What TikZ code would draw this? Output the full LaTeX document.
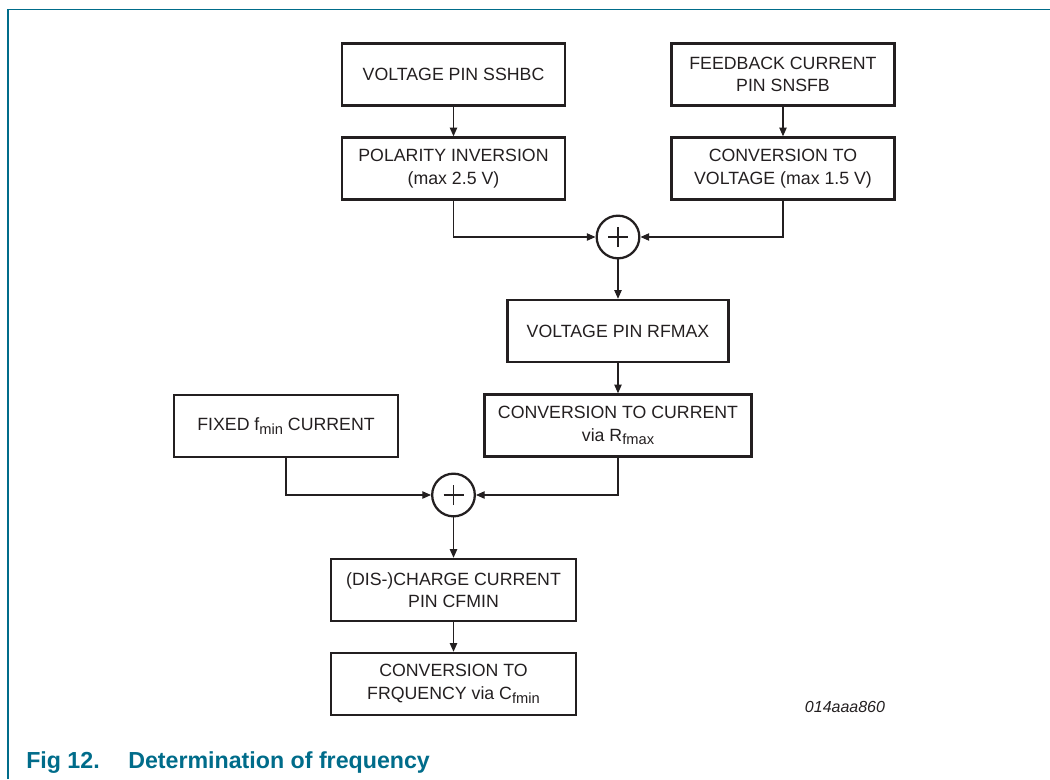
\documentclass[tikz,border=0pt]{standalone}
\usepackage{fontspec}
\setmainfont{Liberation Sans}
\usepackage{xcolor}
\usepackage{tikz}
\usetikzlibrary{arrows.meta}
\usetikzlibrary{shapes}
\definecolor{figteal}{RGB}{0,108,138}
\definecolor{inkgray}{RGB}{35,31,32}
\newcommand{\lowsub}[1]{\raisebox{-0.4ex}{\fontsize{11}{12}\selectfont #1}}
\tikzset{
	block/.style={draw=inkgray, text=inkgray, line width=1.8pt, minimum height=46.5pt,
		align=center, inner sep=2pt, font=\fontsize{13.3}{17}\selectfont},
	sumnode/.style={circle, draw=inkgray, line width=1.7pt, minimum size=32pt, inner sep=0pt,
		path picture={\draw[line width=0.8pt, inkgray]
			(path picture bounding box.center) +(-7.5pt,0) -- +(7.5pt,0)
			(path picture bounding box.center) +(0,-7.5pt) -- +(0,7.5pt);}},
	frame/.style={draw=figteal, line width=1pt},
}
\tikzstyle{line} = [draw=inkgray, line width=0.9pt, -{Triangle[length=6.5pt,width=5.5pt]}]

\begin{document}
\begin{tikzpicture}[x=0.75pt, y=-0.75pt]
	\useasboundingbox (0,0) rectangle (1050,779);
	\draw[frame] (8,779) -- (8,9.5) -- (1050,9.5);
	% upper branch
	\node[block, minimum width=167pt] (sshbc) at (453.5,74.5) {VOLTAGE PIN SSHBC};
	\node[block, minimum width=167pt] (snsfb) at (783,74.5) {FEEDBACK CURRENT\\PIN SNSFB};
	\node[block, minimum width=167pt] (polinv) at (453.5,168.5) {POLARITY INVERSION\\(max 2.5 V)};
	\node[block, minimum width=167pt] (convv) at (783,168.5) {CONVERSION TO\\VOLTAGE (max 1.5 V)};
	\node[sumnode] (sumv) at (618,237) {};
	\node[block, minimum width=166pt] (rfmax) at (618,331) {VOLTAGE PIN RFMAX};
	\node[block, minimum width=200pt] (convi) at (618,425.5) {CONVERSION TO CURRENT\\via R\lowsub{fmax}};
	% lower branch
	\node[block, minimum width=168pt] (fixed) at (286,426) {FIXED f\lowsub{min} CURRENT};
	\node[sumnode] (sumi) at (453.5,495) {};
	\node[block, minimum width=184pt] (cfmin) at (453.5,590) {(DIS-)CHARGE CURRENT\\PIN CFMIN};
	\node[block, minimum width=184pt] (freq) at (453.5,684) {CONVERSION TO\\FRQUENCY via C\lowsub{fmin}};
	% connectors
	\path[line] (sshbc) -- (polinv);
	\path[line] (snsfb) -- (convv);
	\path[line] (polinv) |- (sumv);
	\path[line] (convv) |- (sumv);
	\path[line] (sumv) -- (rfmax);
	\path[line] (rfmax) -- (convi);
	\path[line] (convi) |- (sumi);
	\path[line] (fixed) |- (sumi);
	\path[line] (sumi) -- (cfmin);
	\path[line] (cfmin) -- (freq);
	% labels
	\node[text=inkgray, font=\fontsize{12}{14}\selectfont\itshape] (figcode) at (845,707) {014aaa860};
	\node[anchor=base west, inner sep=0pt, text=figteal, font=\fontsize{17.4}{20}\selectfont\bfseries] (fignum) at (26,768) {Fig 12.};
	\node[anchor=base west, inner sep=0pt, text=figteal, font=\fontsize{17.4}{20}\selectfont\bfseries] (figtitle) at (128,768) {Determination of frequency};
\end{tikzpicture}
\end{document}
